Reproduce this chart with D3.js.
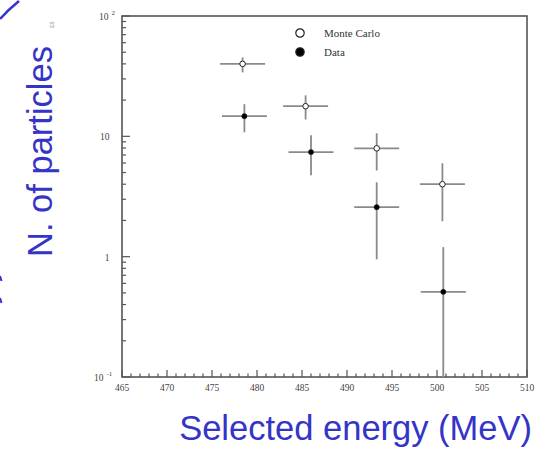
<!DOCTYPE html>
<html>
<head>
<meta charset="utf-8">
<script src="https://cdn.jsdelivr.net/npm/d3@7"></script>
<style>
  body { margin: 0; background: #fff; }
  svg { display: block; }
</style>
</head>
<body>
<div id="chart"></div>
<script>
// energy bins (MeV) with half-width, values with lower / upper error
var mcEnergy = [478.4, 485.4, 493.3, 500.6]
var mcValue = [40, 17.8, 7.95, 4.0]
var mcLow = [34, 13.8, 5.2, 1.97]
var mcHigh = [45.3, 21.9, 10.6, 5.97]

var dataEnergy = [478.6, 486.0, 493.3, 500.7]
var dataValue = [14.7, 7.4, 2.58, 0.51]
var dataLow = [10.8, 4.74, 0.95, 0.05]
var dataHigh = [18.5, 10.2, 4.15, 1.2]

var binHalf = 2.5

var xTicks = [465, 470, 475, 480, 485, 490, 495, 500, 505, 510]
var yTicks = [100, 10, 1, 0.1]

var legendLabels = ['Monte Carlo', 'Data']

var margin = { top: 16, right: 19, bottom: 74, left: 122 }
var width = 546 - margin.left - margin.right
var height = 451 - margin.top - margin.bottom

var root = d3.select('#chart')
  .append('svg')
  .attr('width', 546)
  .attr('height', 451)

var svg = root.append('g')
  .attr('transform', 'translate(' + margin.left + ',' + margin.top + ')')

var xScale = d3.scaleLinear()
  .domain([465, 510])
  .range([0, width])

var yScale = d3.scaleLog()
  .domain([0.1, 100])
  .range([height, 0])
  .clamp(true)

var serif = 'Liberation Serif, Times New Roman, serif'
var axisColor = '#555'

// minor ticks
var xMinor = d3.range(466, 510, 1).filter(d => d % 5 !== 0)
svg.selectAll('.xminor')
  .data(xMinor)
  .enter().append('line')
  .attr('x1', d => xScale(d)).attr('x2', d => xScale(d))
  .attr('y1', height).attr('y2', height - 3.5)
  .attr('stroke', axisColor).attr('stroke-width', 1.2)

svg.selectAll('.xmajor')
  .data(xTicks)
  .enter().append('line')
  .attr('x1', d => xScale(d)).attr('x2', d => xScale(d))
  .attr('y1', height).attr('y2', height - 7)
  .attr('stroke', axisColor).attr('stroke-width', 1.2)

var yMinor = []
;[0.1, 1, 10].forEach(dec => {
  for (var k = 2; k <= 9; k++) yMinor.push(dec * k)
})
svg.selectAll('.yminor')
  .data(yMinor)
  .enter().append('line')
  .attr('x1', 0).attr('x2', 4)
  .attr('y1', d => yScale(d)).attr('y2', d => yScale(d))
  .attr('stroke', axisColor).attr('stroke-width', 1.2)

svg.selectAll('.ymajor')
  .data(yTicks)
  .enter().append('line')
  .attr('x1', 0).attr('x2', 8)
  .attr('y1', d => yScale(d)).attr('y2', d => yScale(d))
  .attr('stroke', axisColor).attr('stroke-width', 1.2)

// frame
svg.append('rect')
  .attr('width', width)
  .attr('height', height)
  .attr('fill', 'none')
  .attr('stroke', axisColor)
  .attr('stroke-width', 1.6)

// x tick labels
svg.selectAll('.xlabel')
  .data(xTicks)
  .enter().append('text')
  .attr('x', d => xScale(d))
  .attr('y', height + 14)
  .attr('text-anchor', 'middle')
  .attr('font-family', serif)
  .attr('font-size', 9.5)
  .attr('fill', '#444')
  .text(d => d)

// y tick labels
var yLab = svg.selectAll('.ylabel')
  .data(yTicks)
  .enter().append('text')
  .attr('y', d => yScale(d) + 4)
  .attr('font-family', serif)
  .attr('font-size', 9.5)
  .attr('fill', '#444')
yLab.filter(d => d === 1)
  .attr('x', -15)
  .attr('text-anchor', 'middle')
  .text('1')
yLab.filter(d => d === 10)
  .attr('x', -22)
  .text('10')
yLab.filter(d => d === 100 || d === 0.1)
  .attr('x', d => d === 100 ? -23 : -28)
  .each(function (d) {
    var t = d3.select(this)
    t.append('tspan').text('10')
    t.append('tspan').attr('dx', 3).attr('dy', -5).attr('font-size', 7)
      .text(d === 100 ? '2' : '-1')
  })

// error bars + markers
function drawSeries (energy, value, low, high, filled) {
  var pts = energy.map((e, i) => ({ e: e, v: value[i], lo: low[i], hi: high[i] }))
  var g = svg.append('g')
  g.selectAll('.hbar')
    .data(pts)
    .enter().append('line')
    .attr('x1', d => xScale(d.e - binHalf))
    .attr('x2', d => xScale(d.e + binHalf))
    .attr('y1', d => yScale(d.v))
    .attr('y2', d => yScale(d.v))
    .attr('stroke', '#8a8a8a').attr('stroke-width', 1.8)
  g.selectAll('.vbar')
    .data(pts)
    .enter().append('line')
    .attr('x1', d => xScale(d.e))
    .attr('x2', d => xScale(d.e))
    .attr('y1', d => yScale(d.lo))
    .attr('y2', d => yScale(d.hi))
    .attr('stroke', '#8a8a8a').attr('stroke-width', 1.8)
  g.selectAll('circle')
    .data(pts)
    .enter().append('circle')
    .attr('cx', d => xScale(d.e))
    .attr('cy', d => yScale(d.v))
    .attr('r', filled ? 2.6 : 2.8)
    .attr('fill', filled ? '#000' : '#fff')
    .attr('stroke', '#222')
    .attr('stroke-width', filled ? 0.5 : 1)
}
drawSeries(mcEnergy, mcValue, mcLow, mcHigh, false)
drawSeries(dataEnergy, dataValue, dataLow, dataHigh, true)

// legend
var legend = svg.append('g').attr('transform', 'translate(178,17)')
legendLabels.forEach((lab, i) => {
  legend.append('circle')
    .attr('cx', 0).attr('cy', i * 19)
    .attr('r', 4.2)
    .attr('fill', i === 0 ? '#fff' : '#000')
    .attr('stroke', '#222').attr('stroke-width', 1.2)
  legend.append('text')
    .attr('x', 24).attr('y', i * 19 + 4)
    .attr('font-family', serif)
    .attr('font-size', 11)
    .attr('fill', '#333')
    .text(lab)
})

// axis titles
var blue = '#3434c8'
var sans = 'Liberation Sans, Arial, sans-serif'
root.append('text')
  .attr('x', 532).attr('y', 440)
  .attr('text-anchor', 'end')
  .attr('font-family', sans)
  .attr('font-size', 34.5)
  .attr('fill', blue)
  .text('Selected energy (MeV)')

root.append('text')
  .attr('transform', 'translate(52,257) rotate(-90)')
  .attr('font-family', sans)
  .attr('font-size', 34.5)
  .attr('fill', blue)
  .text('N. of particles')

// faint original y label remnant
root.append('text')
  .attr('transform', 'translate(54,28) rotate(-90)')
  .attr('font-family', sans)
  .attr('font-size', 5)
  .attr('fill', '#777')
  .text('ES')

// slide fragments at the left edge
root.append('path')
  .attr('d', 'M0,19 Q8,10 19,1')
  .attr('fill', 'none')
  .attr('stroke', blue)
  .attr('stroke-width', 2.5)
root.append('path')
  .attr('d', 'M0,276 L1.5,281 M0,298 L1.5,303')
  .attr('stroke', blue)
  .attr('stroke-width', 2)
</script>
</body>
</html>
